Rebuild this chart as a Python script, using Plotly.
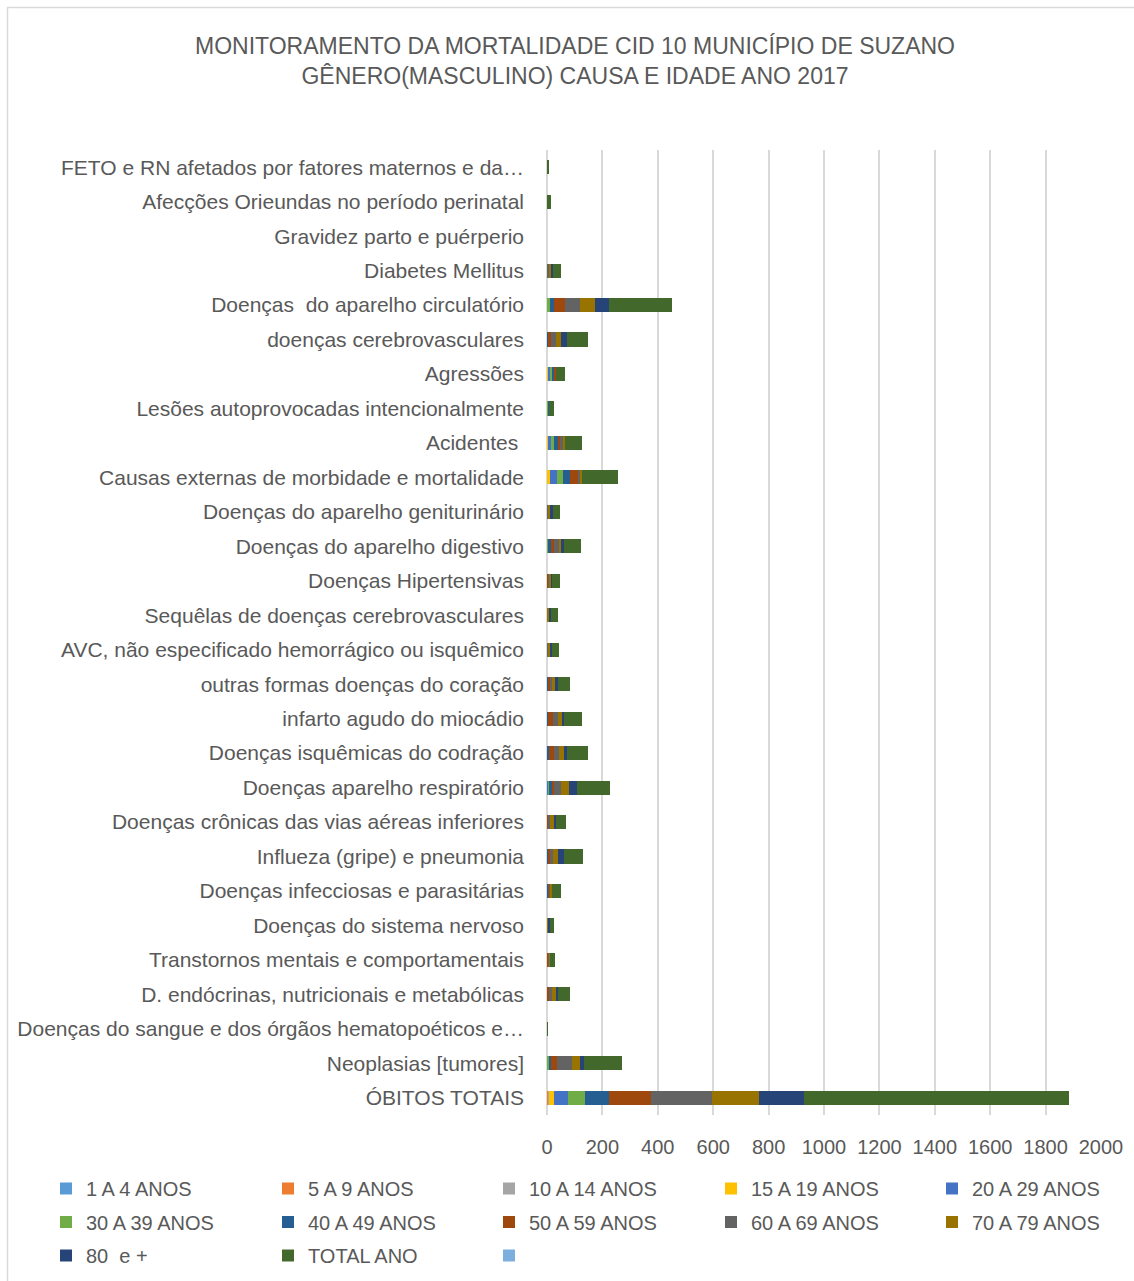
import plotly.graph_objects as go

categories = [
    "FETO e RN afetados por fatores maternos e da…",
    "Afecções Orieundas no período perinatal",
    "Gravidez parto e puérperio",
    "Diabetes Mellitus",
    "Doenças  do aparelho circulatório",
    "doenças cerebrovasculares",
    "Agressões",
    "Lesões autoprovocadas intencionalmente",
    "Acidentes ",
    "Causas externas de morbidade e mortalidade",
    "Doenças do aparelho geniturinário",
    "Doenças do aparelho digestivo",
    "Doenças Hipertensivas",
    "Sequêlas de doenças cerebrovasculares",
    "AVC, não especificado hemorrágico ou isquêmico",
    "outras formas doenças do coração",
    "infarto agudo do miocádio",
    "Doenças isquêmicas do codração",
    "Doenças aparelho respiratório",
    "Doenças crônicas das vias aéreas inferiores",
    "Influeza (gripe) e pneumonia",
    "Doenças infecciosas e parasitárias",
    "Doenças do sistema nervoso",
    "Transtornos mentais e comportamentais",
    "D. endócrinas, nutricionais e metabólicas",
    "Doenças do sangue e dos órgãos hematopoéticos e…",
    "Neoplasias [tumores]",
    "ÓBITOS TOTAIS",
]

#            FET AFE GRA DIA CIR CER AGR LES ACI CAU GEN DIG HIP SEQ AVC OUT INF ISQ RES CRO GRI INF NER TRA END SAN NEO TOT
a_1_4   = [0,  0,  0,  0,  0,  0,  0,  0,  0,  0,  0,  0,  0,  0,  0,  0,  0,  0,  0,  0,  0,  0,  0,  0,  0,  0,  0,  3]
a_5_9   = [0,  0,  0,  0,  0,  0,  0,  0,  0,  0,  0,  0,  0,  0,  0,  0,  0,  0,  0,  0,  0,  0,  0,  0,  0,  0,  0,  2]
a_10_14 = [0,  0,  0,  0,  0,  0,  0,  0,  0,  0,  0,  0,  0,  0,  0,  0,  0,  0,  0,  0,  0,  0,  0,  0,  0,  0,  0,  2]
a_15_19 = [0,  0,  0,  0,  0,  0,  3,  0,  4, 10,  0,  0,  0,  0,  0,  0,  0,  0,  0,  0,  0,  0,  0,  0,  0,  0,  0, 19]
a_20_29 = [0,  0,  0,  0,  0,  0, 11,  3, 10, 25,  0,  0,  0,  0,  0,  0,  0,  0,  4,  0,  0,  0,  0,  0,  0,  0,  3, 49]
a_30_39 = [0,  0,  0,  0, 10,  0,  7,  2, 12, 23,  0,  5,  0,  0,  0,  0,  0,  0,  6,  0,  3,  2,  0,  0,  0,  0,  5, 63]
a_40_49 = [0,  0,  0,  0, 14,  4,  5,  3, 13, 24,  0, 10,  0,  0,  0,  4,  3,  8,  7,  0,  4,  3,  0,  2,  0,  0,  7, 85]
a_50_59 = [0,  0,  0,  2, 40, 12,  5,  0, 10, 29,  2, 10,  4,  0,  2,  6, 18, 16, 10,  2,  5,  4,  0,  3,  6,  0, 22, 153]
a_60_69 = [0,  0,  0,  6, 56, 17,  0,  0,  7, 10,  4, 20,  5,  2,  5,  8, 18, 18, 22,  8, 11,  5,  3,  4, 12,  1, 52, 218]
a_70_79 = [0,  0,  0, 10, 53, 19,  0,  0,  8,  7,  4,  8,  6,  6,  6, 10, 14, 19, 30, 16, 16,  5,  4,  3, 13,  0, 30, 170]
a_80    = [0,  0,  0,  4, 52, 19,  0,  0,  0,  0, 10,  7,  4,  7,  5, 10, 10, 10, 31,  5, 23,  0,  4,  0,  8,  0, 14, 162]
total   = [9, 15,  0, 30, 228, 77, 33, 16, 64, 128, 28, 62, 28, 24, 26, 44, 62, 76, 118, 37, 67, 31, 13, 17, 45, 2, 137, 958]
blank   = [0,  0,  0,  0,  0,  0,  0,  0,  0,  0,  0,  0,  0,  0,  0,  0,  0,  0,  0,  0,  0,  0,  0,  0,  0,  0,  0,  0]

series_names = ["1 A 4 ANOS", "5 A 9 ANOS", "10 A 14 ANOS", "15 A 19 ANOS", "20 A 29 ANOS",
                "30 A 39 ANOS", "40 A 49 ANOS", "50 A 59 ANOS", "60 A 69 ANOS", "70 A 79 ANOS",
                "80  e +", "TOTAL ANO", " "]
series_values = [a_1_4, a_5_9, a_10_14, a_15_19, a_20_29, a_30_39, a_40_49, a_50_59,
                 a_60_69, a_70_79, a_80, total, blank]
colors = ["#5B9BD5", "#ED7D31", "#A5A5A5", "#FFC000", "#4472C4", "#70AD47", "#255E91",
          "#9E480E", "#636363", "#997300", "#264478", "#43682B", "#7CAFDD"]

x_ticks = [0, 200, 400, 600, 800, 1000, 1200, 1400, 1600, 1800, 2000]

W, H = 1134, 1281
ML, MR, MT, MB = 547, 33, 150, 166
PW, PH = W - ML - MR, H - MT - MB

def px_x(p):
    return (p - ML) / PW

def px_y(p):
    return (H - MB - p) / PH

grey = "#595959"
font_family = "Liberation Sans, Arial, sans-serif"

# legend grid: 5 columns x 3 rows; each column is its own vertical legend
col_swatch_left = [60, 282, 503, 725, 946]
legend_top = 1169

fig = go.Figure()
legend_layout = {}
for i, (name, vals, col) in enumerate(zip(series_names, series_values, colors)):
    c = i % 5
    lid = "legend" if c == 0 else f"legend{c + 1}"
    fig.add_trace(go.Bar(
        y=categories,
        x=vals,
        name=name,
        orientation="h",
        marker=dict(color=col, line=dict(width=0)),
        showlegend=True,
        legend=lid,
        legendgroup=f"g{i}",
        hoverinfo="x+name",
    ))
    legend_layout[lid] = dict(
        orientation="v", traceorder="grouped", tracegroupgap=4.5,
        x=px_x(col_swatch_left[c] - 14), xanchor="left",
        y=px_y(legend_top), yanchor="top",
        font=dict(size=20, color=grey), bgcolor="rgba(0,0,0,0)",
    )

fig.update_layout(
    width=W, height=H,
    margin=dict(l=ML, r=MR, t=MT, b=MB, autoexpand=False),
    paper_bgcolor="white", plot_bgcolor="white",
    barmode="stack", bargap=0.59,
    font=dict(family=font_family, color=grey, size=20),
    title=dict(
        text="MONITORAMENTO DA MORTALIDADE CID 10 MUNICÍPIO DE SUZANO<br>GÊNERO(MASCULINO) CAUSA E IDADE ANO 2017",
        font=dict(family=font_family, size=23, color=grey),
        x=(575) / W, xanchor="center", xref="container",
        y=1 - 54 / H, yanchor="middle", yref="container",
    ),
    xaxis=dict(
        range=[0, 2000], tickvals=x_ticks, ticktext=[str(v) for v in x_ticks],
        showgrid=True, gridcolor="#d9d9d9", gridwidth=1.5,
        zeroline=True, zerolinecolor="#d9d9d9", zerolinewidth=1.5,
        showline=False, ticks="", tickfont=dict(size=20, color=grey),
        ticklabelstandoff=18, fixedrange=True,
    ),
    yaxis=dict(
        type="category", categoryorder="array", categoryarray=categories,
        autorange="reversed", showgrid=False, zeroline=False, showline=False,
        ticks="", tickfont=dict(size=21, color=grey), ticklabelstandoff=22,
        fixedrange=True,
    ),
    shapes=[dict(
        type="rect", xref="paper", yref="paper",
        x0=px_x(7.5), x1=px_x(1140), y0=px_y(1290), y1=px_y(7.5),
        line=dict(color="#d9d9d9", width=1.5), fillcolor="rgba(0,0,0,0)", layer="below",
    )],
    **legend_layout,
)

fig.write_html(
    "out.html",
    config={"displayModeBar": False},
    post_script="document.body.style.margin='0';document.body.style.overflow='hidden';",
)
